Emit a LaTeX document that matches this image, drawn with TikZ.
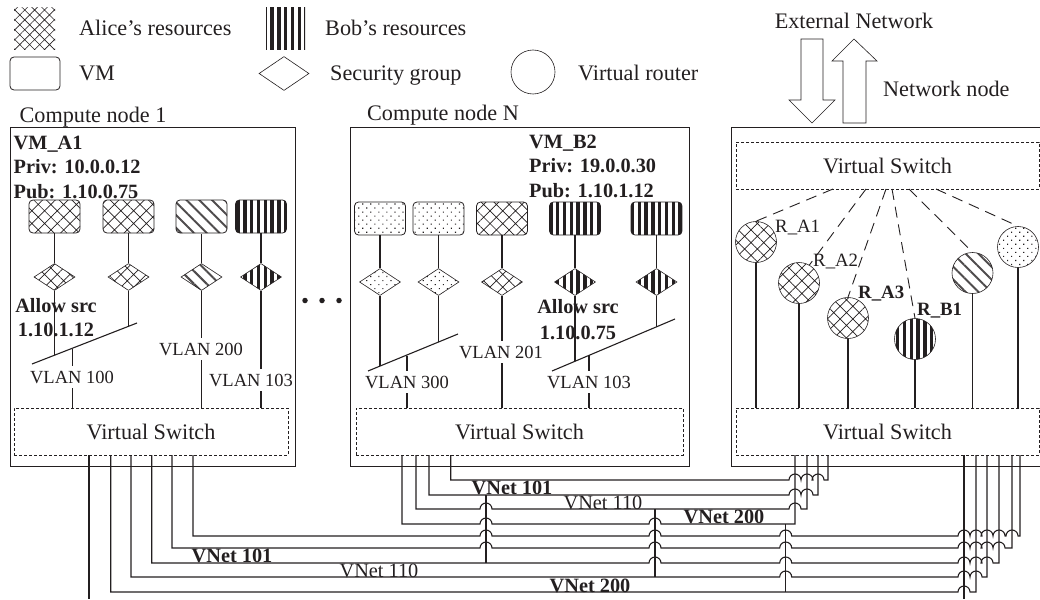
\documentclass[tikz,border=0pt]{standalone}
\usepackage{fontspec}
\setmainfont{Liberation Serif}
\usetikzlibrary{shapes.geometric, patterns.meta}
\definecolor{inkc}{RGB}{35,31,32}
\tikzset{
  lbl/.style={font=\fontsize{22.2}{24}\selectfont, text=inkc, inner sep=0pt},
  boldlbl/.style={font=\fontsize{20.3}{24.5}\selectfont\bfseries, text=inkc, inner sep=0pt, align=left},
  vlan/.style={font=\fontsize{18.5}{20}\selectfont, text=inkc, fill=white, inner xsep=0pt, inner ysep=5pt,
               text height=12pt, text depth=0pt},
  rlbl/.style={font=\fontsize{18.8}{20}\selectfont, text=inkc, inner sep=0pt},
  vnet/.style={font=\fontsize{20.3}{22}\selectfont, text=inkc, inner sep=0pt},
  alicep/.style={pattern={Hatch[angle=45, distance=9pt, line width=.7pt]}, pattern color=inkc},
  alices/.style={pattern={Hatch[angle=45, distance=7pt, line width=.6pt]}, pattern color=inkc},
  bobp/.style={pattern={Lines[angle=90, distance=6.8pt, line width=3.4pt]}, pattern color=inkc},
  otherp/.style={pattern={Lines[angle=-45, distance=9pt, line width=2pt]}, pattern color=inkc!80},
  dotp/.style={pattern={Dots[angle=45, distance=5.7pt, radius=.8pt]}, pattern color=inkc},
  vm/.style={rectangle, rounded corners=4pt, draw=inkc, thick, minimum width=51pt, minimum height=33pt, inner sep=0pt},
  sgroup/.style={diamond, draw=inkc, semithick, minimum width=41pt, minimum height=27pt, inner sep=0pt},
  router/.style={circle, draw=inkc, semithick, minimum size=41pt, inner sep=0pt},
  hostbox/.style={rectangle, draw=inkc, thick, minimum height=339pt, inner sep=0pt},
  vswitch/.style={rectangle, draw=inkc, densely dashed, semithick, minimum height=47pt, inner sep=0pt,
                  font=\fontsize{22.2}{24}\selectfont, text=inkc},
  link/.style={draw=inkc, line width=1.1pt},
  dashlink/.style={draw=inkc, line width=.9pt, dash pattern=on 11pt off 7pt},
  wire/.style={draw=inkc, line width=1.1pt},
  dotmark/.style={circle, fill=inkc, minimum size=5.5pt, inner sep=0pt},
  bigarrow/.style={draw=inkc, semithick, fill=white},
}
\newcommand{\hop}[2]{-- (#1-6,#2) arc[start angle=180, end angle=0, radius=6pt]}

\begin{document}
\begin{tikzpicture}[x=1pt, y=-1pt]

  \useasboundingbox (0,0) rectangle (1040,599);

  % legend
  \node[alices, minimum width=41pt, minimum height=42pt, inner sep=0pt] (lgalice) at (34.5,29) {};
  \node[bobp, minimum width=39pt, minimum height=42pt, inner sep=0pt] (lgbob) at (285.5,29) {};
  \node[vm, minimum width=50pt] (lgvm) at (35,73.5) {};
  \node[sgroup, minimum width=50pt, minimum height=34pt] (lgsg) at (284,73.5) {};
  \node[router, minimum size=44pt] (lgrt) at (533,72) {};
  \node[lbl, anchor=base west] (lgalicet) at (79,36) {Alice’s resources};
  \node[lbl, anchor=base west] (lgbobt) at (325,36) {Bob’s resources};
  \node[lbl, anchor=base west] (lgvmt) at (79,81) {VM};
  \node[lbl, anchor=base west] (lgsgt) at (330,81) {Security group};
  \node[lbl, anchor=base west] (lgrtt) at (578,81) {Virtual router};

  % hosts
  \node[hostbox, minimum width=285pt] (hostone) at (152.5,296.5) {};
  \node[hostbox, minimum width=339pt] (hostn) at (519.5,296.5) {};
  \node[hostbox, minimum width=313pt] (hostnet) at (887.5,296.5) {};
  \node[lbl, anchor=base] (hostonet) at (93,122) {Compute node 1};
  \node[lbl, anchor=base] (hostnt) at (443,121) {Compute node N};
  \node[lbl, anchor=base west] (hostnett) at (883,96) {Network node};
  \node[lbl, anchor=base] (extt) at (854,29) {External Network};

  \node[vswitch, minimum width=274pt] (swone) at (151,431.5) {Virtual Switch};
  \node[vswitch, minimum width=327pt] (swn) at (519.5,431.5) {Virtual Switch};
  \node[vswitch, minimum width=303pt] (swlow) at (887.5,431.5) {Virtual Switch};
  \node[vswitch, minimum width=303pt] (swup) at (887.5,165.5) {Virtual Switch};

  % external arrows
  \draw[bigarrow] (801,39) -- (823,39) -- (823,100) -- (835,100) -- (812,123) -- (789,100) -- (801,100) -- cycle;
  \draw[bigarrow] (854,39) -- (877,61) -- (866,61) -- (866,123) -- (843,123) -- (843,61) -- (832,61) -- cycle;

  % compute node 1
  \node[vm, alicep] (vma1) at (54.5,216.5) {};
  \node[vm, alicep] (vma2) at (128.5,216.5) {};
  \node[vm, otherp] (vmc1) at (201.5,216.5) {};
  \node[vm, bobp] (vmb1) at (261,216.5) {};
  \node[sgroup, alicep] (sga1) at (54.5,277) {};
  \node[sgroup, alicep] (sga2) at (128.5,277) {};
  \node[sgroup, otherp] (sgc1) at (201.5,277) {};
  \node[sgroup, bobp] (sgb1) at (261,277) {};
  \coordinate (barone-w) at (32,364);
  \coordinate (barone-e) at (137,323);
  \coordinate (joina1) at (54.5,355);
  \coordinate (joina2) at (128.5,326.5);
  \coordinate (joinone) at (72.5,349);
  \draw[link] (vma1) -- (sga1);
  \draw[link] (vma2) -- (sga2);
  \draw[link] (vmc1) -- (sgc1);
  \draw[link] (vmb1) -- (sgb1);
  \draw[link] (sga1) -- (joina1);
  \draw[link] (sga2) -- (joina2);
  \draw[link] (joinone) -- (joinone |- swone.north);
  \draw[link] (sgc1) -- (sgc1 |- swone.north);
  \draw[link] (sgb1) -- (sgb1 |- swone.north);
  \node[vlan, anchor=base] (vlan100) at (72,383) {VLAN 100};
  \node[vlan, anchor=base] (vlan200) at (201,355) {VLAN 200};
  \node[vlan, anchor=base] (vlan103) at (251,386) {VLAN 103};
  \draw[link] (barone-w) -- (barone-e);
  \node[boldlbl, anchor=west] (nameone) at (13.5,167) {VM\_A1\\Priv: 10.0.0.12\\Pub: 1.10.0.75};
  \node[boldlbl, anchor=base] (allowa) at (56,312) {Allow src};
  \node[boldlbl, anchor=base] (allowaip) at (56,336) {1.10.1.12};

  \node[dotmark] (dotl) at (305,300.5) {};
  \node[dotmark] (dotm) at (322,300.5) {};
  \node[dotmark] (dotr) at (339,300.5) {};

  % compute node N
  \node[vm, dotp] (vmd1) at (380,218.5) {};
  \node[vm, dotp] (vmd2) at (438.5,218.5) {};
  \node[vm, alicep] (vma3) at (502,218.5) {};
  \node[vm, bobp] (vmb2) at (575,218.5) {};
  \node[vm, bobp] (vmb3) at (656.5,218.5) {};
  \node[sgroup, dotp] (sgd1) at (380,282) {};
  \node[sgroup, dotp] (sgd2) at (438.5,282) {};
  \node[sgroup, alicep] (sga3) at (502,282) {};
  \node[sgroup, bobp] (sgb2) at (575,282) {};
  \node[sgroup, bobp] (sgb3) at (656.5,282) {};
  \coordinate (barnl-w) at (368,371);
  \coordinate (barnl-e) at (458,334);
  \coordinate (barnr-w) at (552,371);
  \coordinate (barnr-e) at (675,319);
  \coordinate (joind1) at (380,366);
  \coordinate (joind2) at (438.5,342);
  \coordinate (joinb2) at (575,361);
  \coordinate (joinb3) at (656.5,327);
  \coordinate (joinnl) at (407,355.5);
  \coordinate (joinnr) at (589,355);
  \draw[link] (vmd1) -- (sgd1);
  \draw[link] (vmd2) -- (sgd2);
  \draw[link] (vma3) -- (sga3);
  \draw[link] (vmb2) -- (sgb2);
  \draw[link] (vmb3) -- (sgb3);
  \draw[link] (sgd1) -- (joind1);
  \draw[link] (sgd2) -- (joind2);
  \draw[link] (sgb2) -- (joinb2);
  \draw[link] (sgb3) -- (joinb3);
  \draw[link] (joinnl) -- (joinnl |- swn.north);
  \draw[link] (joinnr) -- (joinnr |- swn.north);
  \draw[link] (sga3) -- (sga3 |- swn.north);
  \node[vlan, anchor=base] (vlan300) at (407,388) {VLAN 300};
  \node[vlan, anchor=base] (vlan201) at (501,358) {VLAN 201};
  \node[vlan, anchor=base] (vlan103n) at (589,388) {VLAN 103};
  \draw[link] (barnl-w) -- (barnl-e);
  \draw[link] (barnr-w) -- (barnr-e);
  \node[boldlbl, anchor=west] (namen) at (529,166) {VM\_B2\\Priv: 19.0.0.30\\Pub: 1.10.1.12};
  \node[boldlbl, anchor=base] (allowb) at (578,313) {Allow src};
  \node[boldlbl, anchor=base] (allowbip) at (578,339) {1.10.0.75};

  % network node
  \node[router, alicep] (rta1) at (756,242) {};
  \node[router, alicep] (rta2) at (799,283) {};
  \node[router, alicep] (rta3) at (848,318) {};
  \node[router, bobp] (rtb1) at (915,339) {};
  \node[router, otherp] (rtc1) at (972.5,273) {};
  \node[router, dotp] (rtd1) at (1018,247) {};
  \draw[link] (rta1) -- (rta1 |- swlow.north);
  \draw[link] (rta2) -- (rta2 |- swlow.north);
  \draw[link] (rta3) -- (rta3 |- swlow.north);
  \draw[link] (rtb1) -- (rtb1 |- swlow.north);
  \draw[link] (rtc1) -- (rtc1 |- swlow.north);
  \draw[link] (rtd1) -- (rtd1 |- swlow.north);
  \coordinate (upa1) at (833,189);
  \coordinate (upa2) at (866,189);
  \coordinate (upa3) at (886,189);
  \coordinate (upb1) at (892,189);
  \coordinate (upc1) at (909,189);
  \coordinate (upd1) at (936,189);
  \draw[dashlink] (upa1) -- (rta1.north);
  \draw[dashlink] (upa2) -- (rta2.60);
  \draw[dashlink] (upa3) -- (rta3.north);
  \draw[dashlink] (upb1) -- (rtb1.north);
  \draw[dashlink] (upc1) -- (rtc1.north);
  \draw[dashlink] (upd1) -- (rtd1.north);
  \node[rlbl, anchor=base west] (rlbla1) at (775,232) {R\_A1};
  \node[rlbl, anchor=base west] (rlbla2) at (813,266) {R\_A2};
  \node[rlbl, anchor=base west, font=\fontsize{18.8}{20}\selectfont\bfseries] (rlbla3) at (858,298) {R\_A3};
  \node[rlbl, anchor=base west, font=\fontsize{18.8}{20}\selectfont\bfseries] (rlblb1) at (917,315) {R\_B1};

  % wires under the hosts
  \coordinate (pa1) at (89,455);
  \coordinate (pa2) at (110.7,455);
  \coordinate (pa3) at (131,455);
  \coordinate (pa4) at (151.7,455);
  \coordinate (pa5) at (172,455);
  \coordinate (pa6) at (193,455);
  \coordinate (pn1) at (402,455);
  \coordinate (pn2) at (416,455);
  \coordinate (pn3) at (429,455);
  \coordinate (pn4) at (450.7,455);
  \coordinate (pu1) at (795,455);
  \coordinate (pu2) at (807,455);
  \coordinate (pu3) at (818,455);
  \coordinate (pu4) at (828,455);
  \coordinate (pv1) at (964,455);
  \coordinate (pv2) at (976,455);
  \coordinate (pv3) at (987,455);
  \coordinate (pv4) at (999,455);
  \coordinate (pv5) at (1012,455);
  \coordinate (pv6) at (1020,455);
  \coordinate (jn101t) at (486,495);
  \coordinate (jn101b) at (486,563);
  \coordinate (jn110t) at (655,509);
  \coordinate (jn110b) at (655,577);
  \coordinate (jn200t) at (785.7,524);
  \coordinate (jn200b) at (785.7,592);

  \draw[wire] (jn101t) -- (jn101b);
  \draw[wire] (jn110t) -- (jn110b);
  \draw[wire] (jn200t) -- (jn200b);

  \draw[wire] (pn4) -- (pn4 |- 0,480) \hop{795}{480} \hop{807}{480} \hop{818}{480} -| (pu4);
  \draw[wire] (pn3) -- (pn3 |- 0,495) \hop{795}{495} \hop{807}{495} -| (pu3);
  \draw[wire] (pn2) -- (pn2 |- 0,509) \hop{486}{509} \hop{795}{509} -| (pu2);
  \draw[wire] (pn1) -- (pn1 |- 0,524) \hop{486}{524} \hop{655}{524} -| (pu1);

  \draw[wire] (pa6) -- (pa6 |- 0,536) \hop{486}{536} \hop{655}{536} \hop{785.7}{536}
    \hop{964}{536} \hop{976}{536} \hop{987}{536} \hop{999}{536} \hop{1012}{536} -| (pv6);
  \draw[wire] (pa5) -- (pa5 |- 0,548) \hop{486}{548} \hop{655}{548} \hop{785.7}{548}
    \hop{964}{548} \hop{976}{548} \hop{987}{548} \hop{999}{548} -| (pv5);
  \draw[wire] (pa4) -- (pa4 |- 0,563) \hop{655}{563} \hop{785.7}{563}
    \hop{964}{563} \hop{976}{563} \hop{987}{563} -| (pv4);
  \draw[wire] (pa3) -- (pa3 |- 0,577) \hop{785.7}{577}
    \hop{964}{577} \hop{976}{577} -| (pv3);
  \draw[wire] (pa2) -- (pa2 |- 0,592) \hop{964}{592} -| (pv2);
  \draw[wire] (pa1) -- (pa1 |- 0,599);
  \draw[wire] (pv1) -- (pv1 |- 0,599);

  \node[vnet, anchor=base, font=\fontsize{20.3}{22}\selectfont\bfseries] (vnet101a) at (512,494) {VNet 101};
  \node[vnet, anchor=base] (vnet110a) at (603,509) {VNet 110};
  \node[vnet, anchor=base, font=\fontsize{20.3}{22}\selectfont\bfseries] (vnet200a) at (724,523) {VNet 200};
  \node[vnet, anchor=base, font=\fontsize{20.3}{22}\selectfont\bfseries] (vnet101b) at (232,562) {VNet 101};
  \node[vnet, anchor=base] (vnet110b) at (379,577) {VNet 110};
  \node[vnet, anchor=base, font=\fontsize{20.3}{22}\selectfont\bfseries] (vnet200b) at (590,592) {VNet 200};

\end{tikzpicture}
\end{document}
